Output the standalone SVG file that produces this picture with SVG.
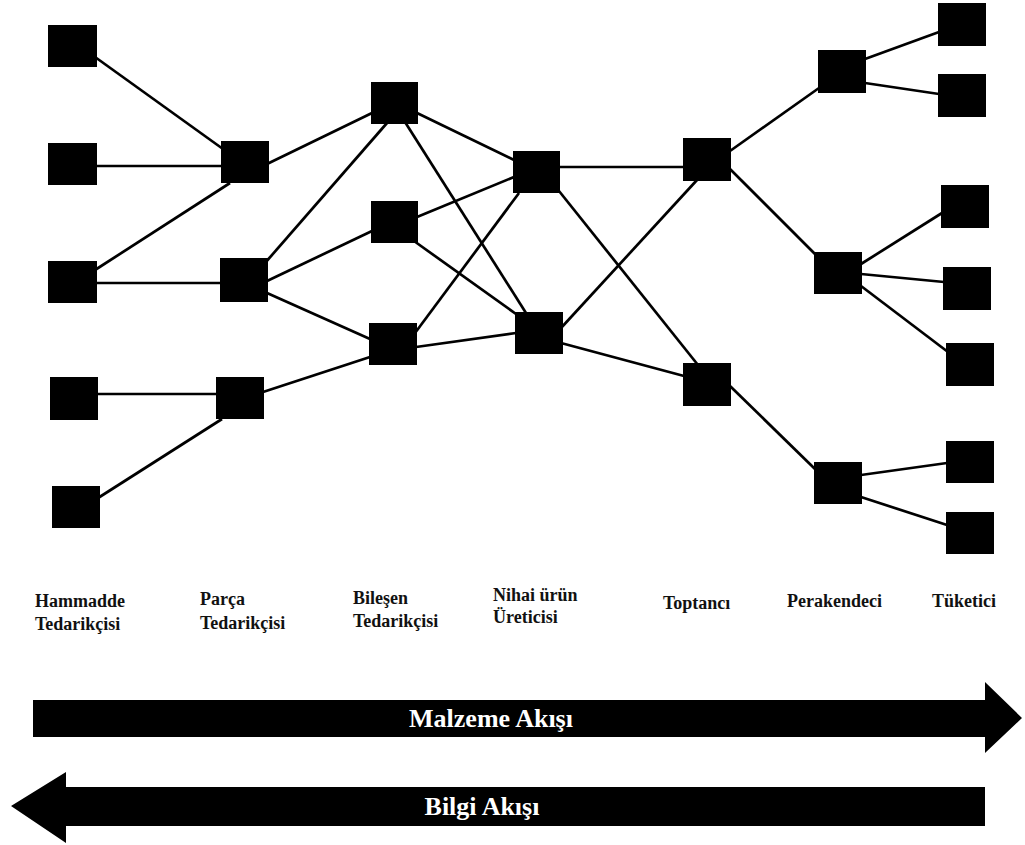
<svg xmlns="http://www.w3.org/2000/svg" width="1025" height="845" viewBox="0 0 1025 845">
  <style>
    .node { fill: #000; }
    .edge { stroke: #000; stroke-width: 2.7; fill: none; }
    .lbl { font-family: "Liberation Serif", "Times New Roman", serif; font-weight: bold; font-size: 18px; fill: #111; }
    .flow { fill: #000; }
    .flowtxt { font-family: "Liberation Serif", "Times New Roman", serif; font-weight: bold; font-size: 26px; fill: #fff; text-anchor: middle; }
  </style>
  <rect width="1025" height="845" fill="#fff"/>

  <!-- connectors between tiers of the supply network -->
  <g id="connectors">
    <line class="edge" x1="95" y1="57" x2="223" y2="149"/>
    <line class="edge" x1="96" y1="166" x2="222" y2="166"/>
    <line class="edge" x1="95" y1="270" x2="230" y2="183"/>
    <line class="edge" x1="96" y1="283" x2="221" y2="283"/>
    <line class="edge" x1="97" y1="394" x2="217" y2="394"/>
    <line class="edge" x1="98" y1="498" x2="222" y2="419"/>

    <line class="edge" x1="267" y1="164" x2="372" y2="113"/>
    <line class="edge" x1="265" y1="263" x2="387" y2="123"/>
    <line class="edge" x1="267" y1="281" x2="372" y2="231"/>
    <line class="edge" x1="267" y1="293" x2="370" y2="339"/>
    <line class="edge" x1="263" y1="392" x2="370" y2="357"/>

    <line class="edge" x1="417" y1="113" x2="514" y2="160"/>
    <line class="edge" x1="405" y1="122" x2="526" y2="313"/>
    <line class="edge" x1="417" y1="217" x2="514" y2="177"/>
    <line class="edge" x1="414" y1="241" x2="516" y2="314"/>
    <line class="edge" x1="415" y1="333" x2="519" y2="193"/>
    <line class="edge" x1="416" y1="347" x2="516" y2="333"/>

    <line class="edge" x1="559" y1="167" x2="684" y2="167"/>
    <line class="edge" x1="559" y1="191" x2="698" y2="365"/>
    <line class="edge" x1="561" y1="328" x2="697" y2="180"/>
    <line class="edge" x1="561" y1="343" x2="684" y2="376"/>

    <line class="edge" x1="730" y1="151" x2="819" y2="88"/>
    <line class="edge" x1="730" y1="169" x2="815" y2="254"/>
    <line class="edge" x1="730" y1="386" x2="815" y2="469"/>

    <line class="edge" x1="865" y1="59" x2="939" y2="32"/>
    <line class="edge" x1="865" y1="83" x2="939" y2="94"/>
    <line class="edge" x1="861" y1="264" x2="942" y2="213"/>
    <line class="edge" x1="861" y1="274" x2="944" y2="282"/>
    <line class="edge" x1="861" y1="286" x2="948" y2="352"/>
    <line class="edge" x1="861" y1="475" x2="947" y2="463"/>
    <line class="edge" x1="861" y1="497" x2="947" y2="525"/>
  </g>

  <!-- raw material suppliers -->
  <g id="hammadde-1"><rect class="node" x="48" y="25" width="49" height="42"/></g>
  <g id="hammadde-2"><rect class="node" x="48" y="143" width="49" height="42"/></g>
  <g id="hammadde-3"><rect class="node" x="48" y="261" width="49" height="42"/></g>
  <g id="hammadde-4"><rect class="node" x="50" y="377" width="48" height="43"/></g>
  <g id="hammadde-5"><rect class="node" x="52" y="486" width="48" height="42"/></g>

  <!-- part suppliers -->
  <g id="parca-1"><rect class="node" x="221" y="141" width="48" height="42"/></g>
  <g id="parca-2"><rect class="node" x="220" y="258" width="48" height="44"/></g>
  <g id="parca-3"><rect class="node" x="216" y="377" width="48" height="42"/></g>

  <!-- component suppliers -->
  <g id="bilesen-1"><rect class="node" x="371" y="82" width="47" height="42"/></g>
  <g id="bilesen-2"><rect class="node" x="371" y="201" width="47" height="42"/></g>
  <g id="bilesen-3"><rect class="node" x="369" y="323" width="48" height="42"/></g>

  <!-- final product manufacturers -->
  <g id="uretici-1"><rect class="node" x="513" y="151" width="47" height="42"/></g>
  <g id="uretici-2"><rect class="node" x="515" y="312" width="48" height="42"/></g>

  <!-- wholesalers -->
  <g id="toptanci-1"><rect class="node" x="683" y="138" width="48" height="43"/></g>
  <g id="toptanci-2"><rect class="node" x="683" y="363" width="48" height="43"/></g>

  <!-- retailers -->
  <g id="perakendeci-1"><rect class="node" x="818" y="50" width="48" height="43"/></g>
  <g id="perakendeci-2"><rect class="node" x="814" y="252" width="48" height="42"/></g>
  <g id="perakendeci-3"><rect class="node" x="814" y="462" width="48" height="42"/></g>

  <!-- consumers -->
  <g id="tuketici-1"><rect class="node" x="938" y="3" width="48" height="43"/></g>
  <g id="tuketici-2"><rect class="node" x="938" y="74" width="48" height="43"/></g>
  <g id="tuketici-3"><rect class="node" x="941" y="185" width="48" height="43"/></g>
  <g id="tuketici-4"><rect class="node" x="943" y="267" width="48" height="43"/></g>
  <g id="tuketici-5"><rect class="node" x="946" y="343" width="48" height="43"/></g>
  <g id="tuketici-6"><rect class="node" x="946" y="441" width="48" height="42"/></g>
  <g id="tuketici-7"><rect class="node" x="946" y="512" width="48" height="42"/></g>

  <!-- tier labels -->
  <g id="labels">
    <text class="lbl" x="35" y="607">Hammadde</text>
    <text class="lbl" x="35" y="630">Tedarikçisi</text>
    <text class="lbl" x="200" y="605">Parça</text>
    <text class="lbl" x="200" y="629">Tedarikçisi</text>
    <text class="lbl" x="353" y="604">Bileşen</text>
    <text class="lbl" x="353" y="627">Tedarikçisi</text>
    <text class="lbl" x="493" y="601">Nihai ürün</text>
    <text class="lbl" x="493" y="623">Üreticisi</text>
    <text class="lbl" x="663" y="609">Toptancı</text>
    <text class="lbl" x="787" y="607">Perakendeci</text>
    <text class="lbl" x="932" y="607">Tüketici</text>
  </g>

  <!-- material flow, left to right -->
  <g id="malzeme-akisi">
    <polygon class="flow" points="33,700 985,700 985,682 1022,718 985,753 985,737 33,737"/>
    <text class="flowtxt" x="491" y="727">Malzeme Akışı</text>
  </g>

  <!-- information flow, right to left -->
  <g id="bilgi-akisi">
    <polygon class="flow" points="985,787 66,787 66,772 11,806 66,843 66,826 985,826"/>
    <text class="flowtxt" x="482" y="815">Bilgi Akışı</text>
  </g>
</svg>
